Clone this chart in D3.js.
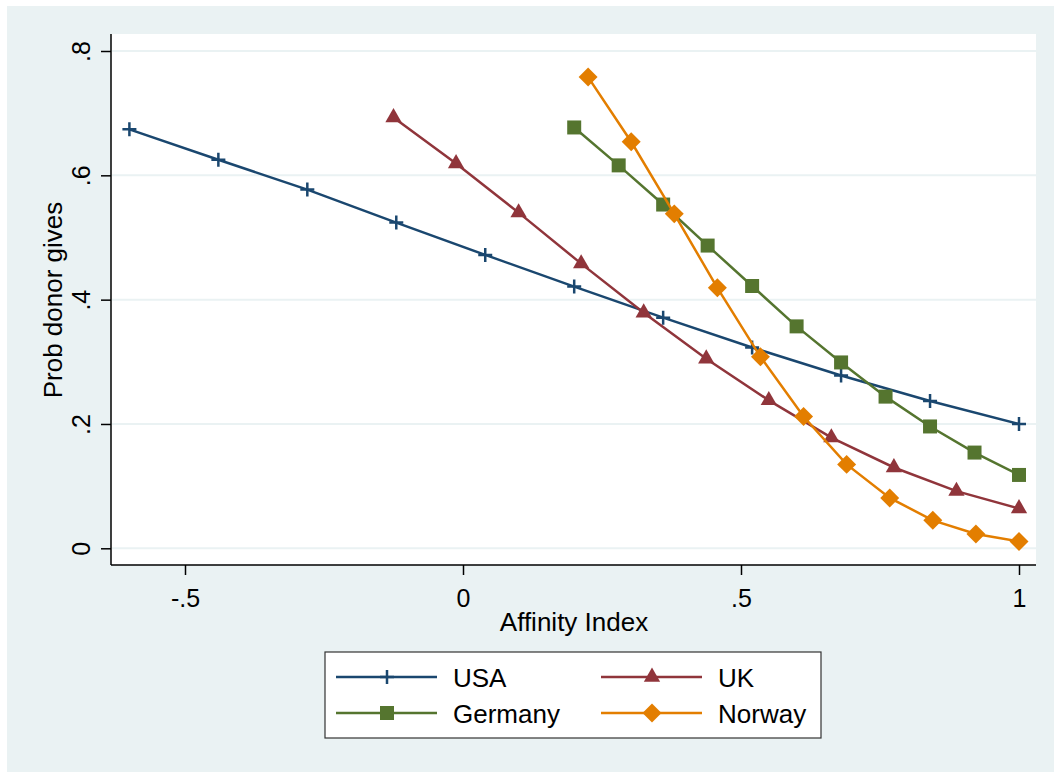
<!DOCTYPE html>
<html>
<head>
<meta charset="utf-8">
<script src="https://cdn.jsdelivr.net/npm/d3@7"></script>
<style>
  body { margin: 0; background: #fff; }
  text { font-family: "Liberation Sans", Arial, sans-serif; fill: #000; }
</style>
</head>
<body>
<div id="chart"></div>
<script>
// values
const usaX = [-0.6, -0.44, -0.28, -0.12, 0.04, 0.2, 0.36, 0.52, 0.68, 0.84, 1.0];
const usaY = [0.674, 0.625, 0.577, 0.524, 0.472, 0.421, 0.371, 0.323, 0.278, 0.237, 0.200];
const ukX = [-0.125, -0.0125, 0.1, 0.2125, 0.325, 0.4375, 0.55, 0.6625, 0.775, 0.8875, 1.0];
const ukY = [0.693, 0.619, 0.540, 0.458, 0.379, 0.305, 0.238, 0.178, 0.130, 0.092, 0.064];
const gerX = [0.2, 0.28, 0.36, 0.44, 0.52, 0.6, 0.68, 0.76, 0.84, 0.92, 1.0];
const gerY = [0.677, 0.616, 0.553, 0.487, 0.422, 0.357, 0.299, 0.244, 0.196, 0.154, 0.118];
const norX = [0.225, 0.3025, 0.38, 0.4575, 0.535, 0.6125, 0.69, 0.7675, 0.845, 0.9225, 1.0];
const norY = [0.758, 0.654, 0.538, 0.419, 0.308, 0.212, 0.135, 0.081, 0.045, 0.023, 0.011];

const countries = ["USA", "UK", "Germany", "Norway"];
const xTicks = [-0.5, 0, 0.5, 1];
const xTickLabels = ["-.5", "0", ".5", "1"];
const yTicks = [0, 0.2, 0.4, 0.6, 0.8];
const yTickLabels = ["0", ".2", ".4", ".6", ".8"];

const series = [
  { name: "USA", xs: usaX, ys: usaY, color: "#1a476f", marker: "plus" },
  { name: "UK", xs: ukX, ys: ukY, color: "#90353b", marker: "triangle" },
  { name: "Germany", xs: gerX, ys: gerY, color: "#55752f", marker: "square" },
  { name: "Norway", xs: norX, ys: norY, color: "#e37e00", marker: "diamond" }
];

const W = 1054, H = 772;
const plot = { left: 111, right: 1036, top: 34, bottom: 565 };

const svg = d3.select("#chart").append("svg")
  .attr("width", W)
  .attr("height", H);

// outer background
svg.append("rect")
  .attr("x", 7).attr("y", 6)
  .attr("width", W - 7).attr("height", H - 6)
  .attr("fill", "#eaf2f3");

svg.append("rect")
  .attr("x", plot.left).attr("y", plot.top)
  .attr("width", plot.right - plot.left).attr("height", plot.bottom - plot.top)
  .attr("fill", "#fff");

const x = d3.scaleLinear().domain([-0.5, 1]).range([185, 1019]);
const y = d3.scaleLinear().domain([0, 0.8]).range([548.3, 51]);

// gridlines
svg.append("g").selectAll("line")
  .data(yTicks)
  .join("line")
  .attr("x1", plot.left + 1).attr("x2", plot.right)
  .attr("y1", d => y(d)).attr("y2", d => y(d))
  .attr("stroke", "#eaf2f3")
  .attr("stroke-width", 2);

// axes
const xAxis = svg.append("g")
  .attr("transform", `translate(0,${plot.bottom})`)
  .call(d3.axisBottom(x).tickValues(xTicks).tickSize(10).tickPadding(14)
    .tickFormat((d, i) => xTickLabels[i]));
xAxis.select(".domain").attr("d", `M${plot.left},0H${plot.right}`).attr("stroke-width", 1.5);
xAxis.selectAll(".tick line").attr("stroke-width", 1.5);
xAxis.selectAll("text").attr("font-size", 25).attr("font-family", "Liberation Sans, Arial, sans-serif");

const yAxis = svg.append("g")
  .attr("transform", `translate(${plot.left},0)`)
  .call(d3.axisLeft(y).tickValues(yTicks).tickSize(10)
    .tickFormat((d, i) => yTickLabels[i]));
yAxis.select(".domain").attr("d", `M0,${plot.top}V${plot.bottom}`).attr("stroke-width", 1.5);
yAxis.selectAll(".tick line").attr("stroke-width", 1.5);
yAxis.selectAll("text")
  .attr("font-size", 25)
  .attr("font-family", "Liberation Sans, Arial, sans-serif")
  .attr("x", null).attr("dy", null)
  .attr("text-anchor", "middle")
  .attr("transform", "translate(-21,0) rotate(-90)");

// axis titles
svg.append("text")
  .attr("x", 574).attr("y", 631)
  .attr("text-anchor", "middle")
  .attr("font-size", 26)
  .text("Affinity Index");

svg.append("text")
  .attr("transform", "translate(62,300) rotate(-90)")
  .attr("text-anchor", "middle")
  .attr("font-size", 26)
  .text("Prob donor gives");

// markers
function drawMarker(g, type, color) {
  if (type === "plus") {
    g.append("path")
      .attr("d", "M-7,0H7M0,-7V7")
      .attr("stroke", color).attr("stroke-width", 2.5).attr("fill", "none");
  } else if (type === "triangle") {
    g.append("path")
      .attr("d", d3.symbol(d3.symbolTriangle, 115)())
      .attr("fill", color);
  } else if (type === "square") {
    g.append("path")
      .attr("d", d3.symbol(d3.symbolSquare, 196)())
      .attr("fill", color);
  } else if (type === "diamond") {
    g.append("path")
      .attr("d", d3.symbol(d3.symbolSquare, 180)())
      .attr("transform", "rotate(45)")
      .attr("fill", color);
  }
}

const line = d3.line().x(d => x(d[0])).y(d => y(d[1]));

series.forEach(s => {
  const pts = s.xs.map((v, i) => [v, s.ys[i]]);
  const g = svg.append("g");
  g.append("path")
    .datum(pts)
    .attr("d", line)
    .attr("fill", "none")
    .attr("stroke", s.color)
    .attr("stroke-width", 2.5);
  pts.forEach(p => {
    const m = g.append("g").attr("transform", `translate(${x(p[0])},${y(p[1])})`);
    drawMarker(m, s.marker, s.color);
  });
});

// legend
const legend = svg.append("g");
legend.append("rect")
  .attr("x", 325).attr("y", 652)
  .attr("width", 496).attr("height", 86)
  .attr("fill", "#fff")
  .attr("stroke", "#333").attr("stroke-width", 1.2);

const legendPos = [
  { lx: 336, ty: 677 },
  { lx: 601, ty: 677 },
  { lx: 336, ty: 713 },
  { lx: 601, ty: 713 }
];
series.forEach((s, i) => {
  const p = legendPos[i];
  legend.append("line")
    .attr("x1", p.lx).attr("x2", p.lx + 101)
    .attr("y1", p.ty).attr("y2", p.ty)
    .attr("stroke", s.color).attr("stroke-width", 2.5);
  const m = legend.append("g").attr("transform", `translate(${p.lx + 51},${p.ty})`);
  drawMarker(m, s.marker, s.color);
  legend.append("text")
    .attr("x", p.lx + 117).attr("y", p.ty + 9.5)
    .attr("font-size", 26)
    .text(countries[i]);
});
</script>
</body>
</html>
